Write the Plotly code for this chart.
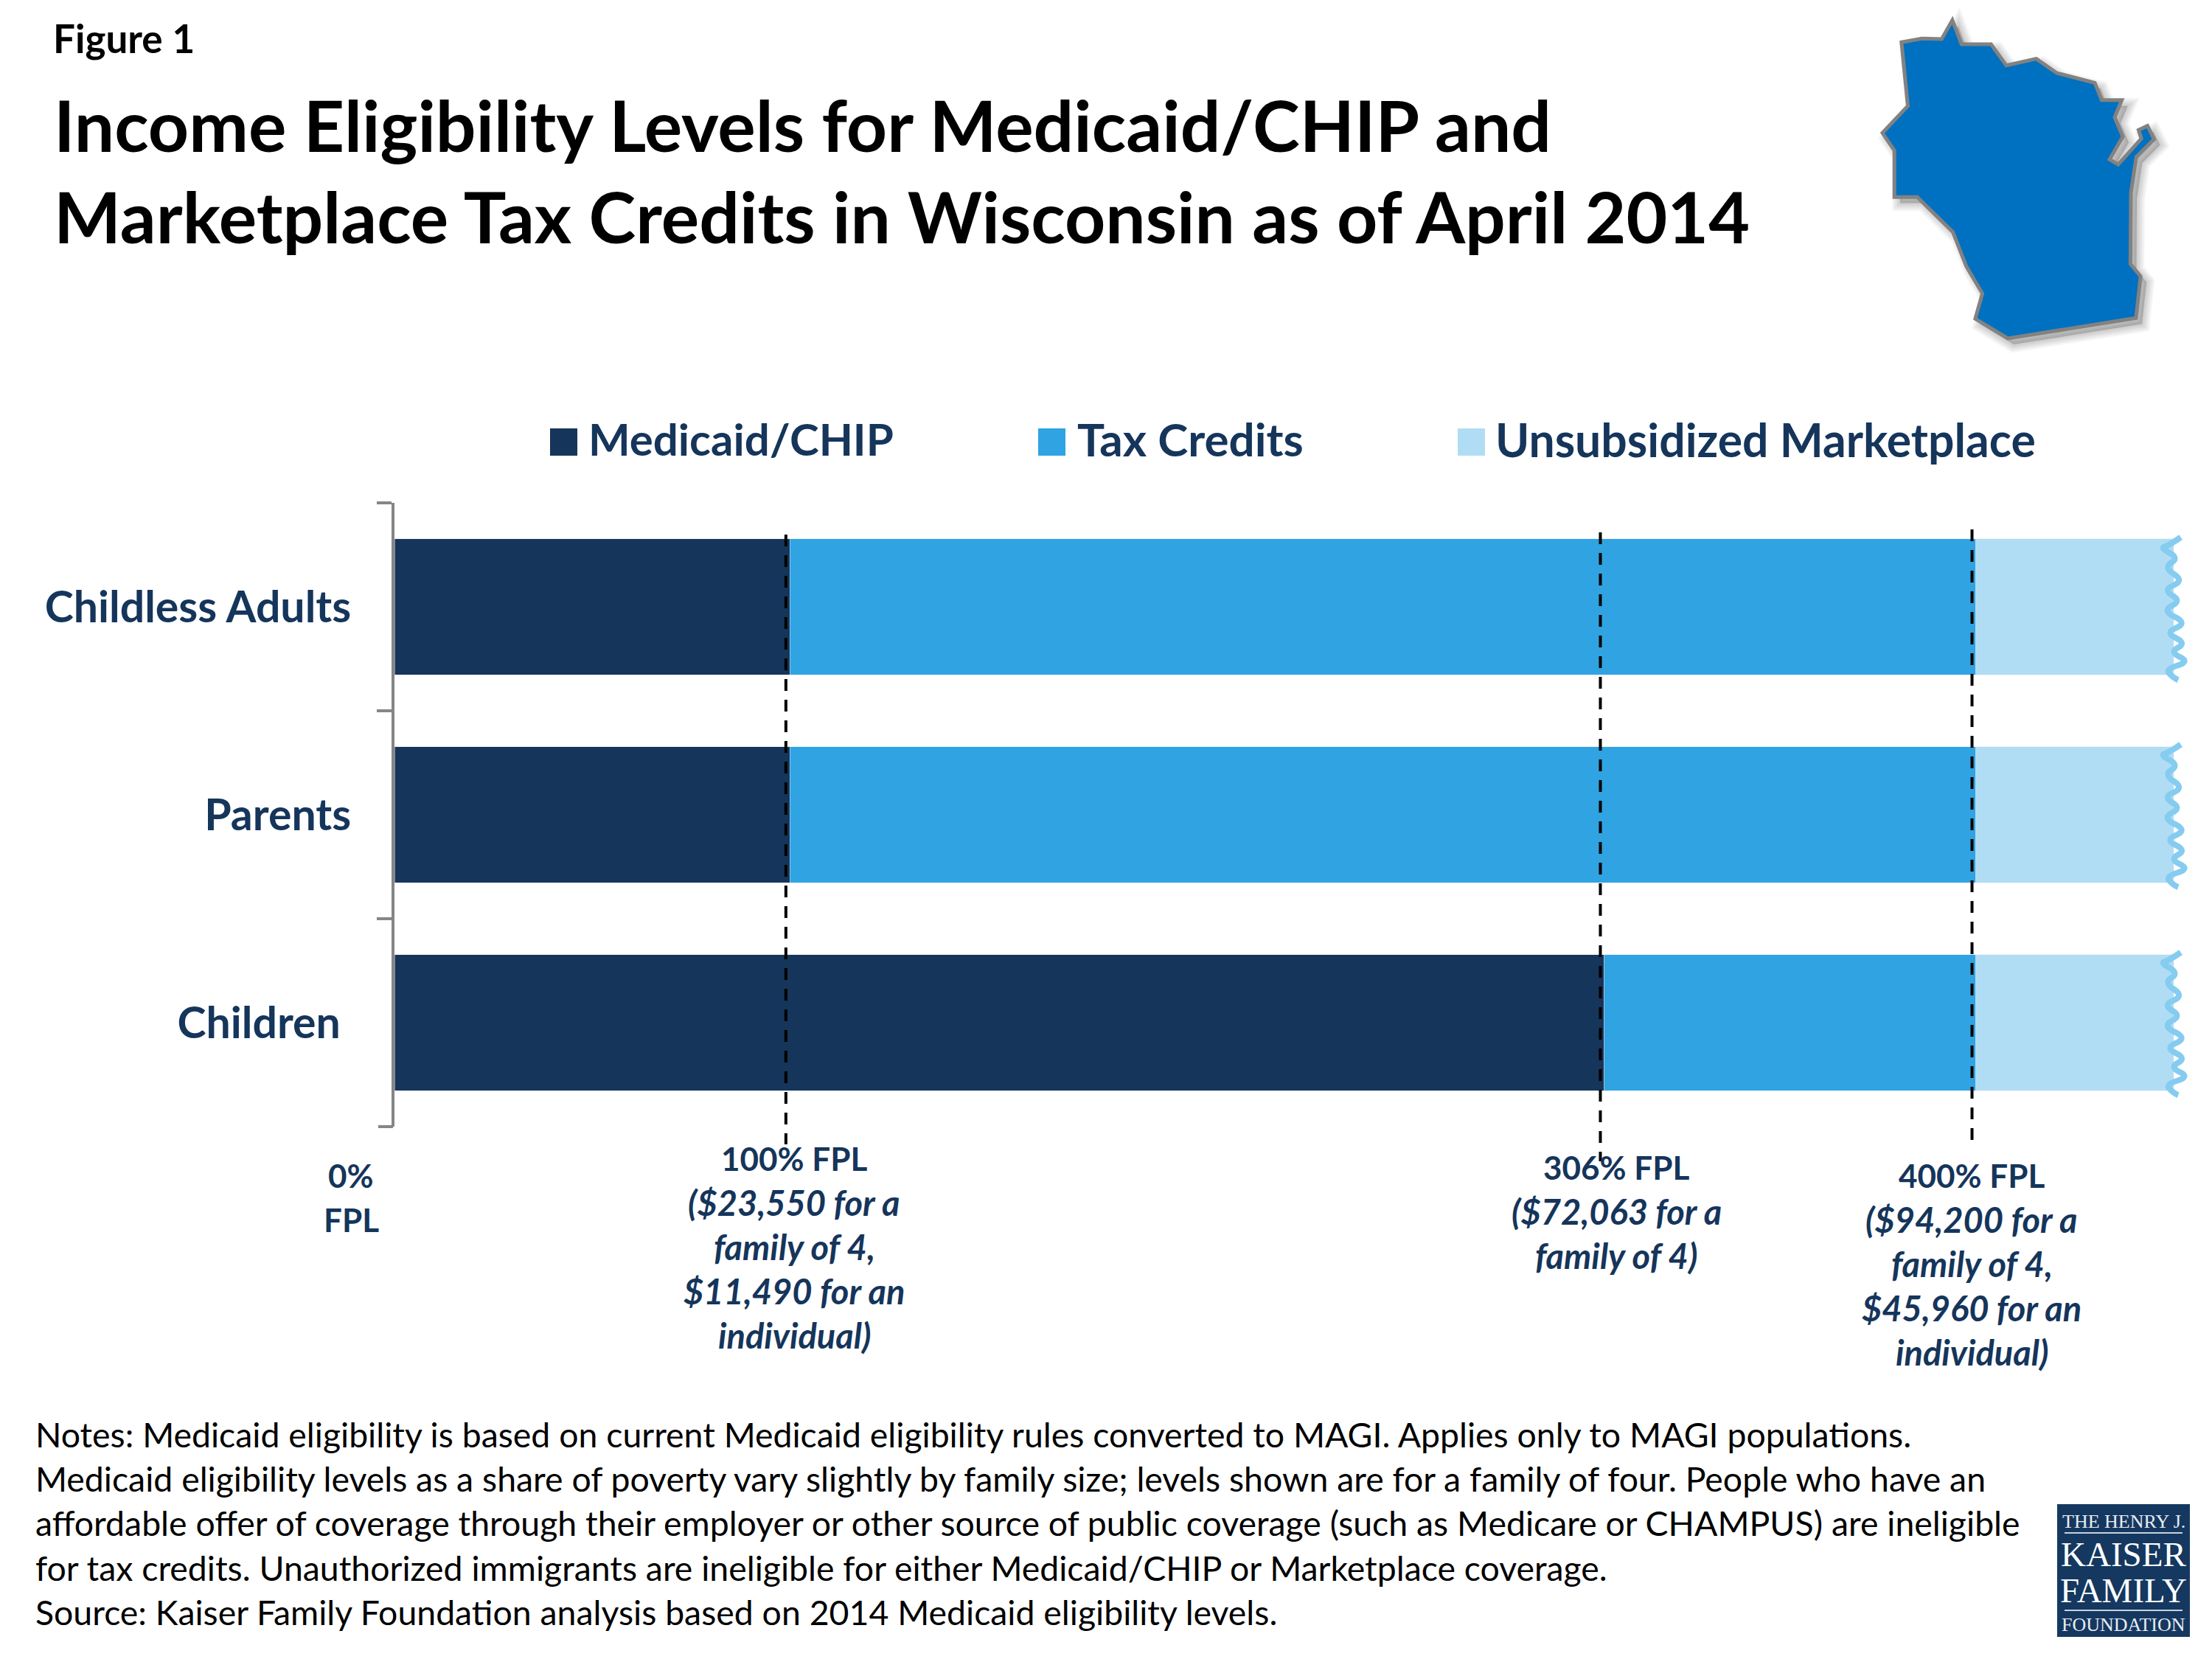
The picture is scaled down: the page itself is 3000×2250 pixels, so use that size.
import plotly.graph_objects as go

W, H = 3000, 2250
# the page body keeps its default 8px margin, so the figure is drawn inside it
FIG_W, FIG_H = W - 16, H - 16

# chart data
groups = ["Childless Adults", "Parents", "Children\u00a0"]
medicaid = [100, 100, 306]
tax_credits = [300, 300, 94]
unsubsidized = [50, 50, 50]
fpl_lines = [99, 305, 399]
fpl_line_ends = [(725, 1552), (722, 1575), (718, 1552)]

NAVY = "#15355B"
MID = "#30A3E2"
LIGHT = "#B1DDF4"
WAVE = "#85CCF0"
FONT = "Lato"

title_lines = [
    "Income Eligibility Levels for Medicaid/CHIP and",
    "Marketplace Tax Credits in Wisconsin as of April 2014",
]
note_lines = [
    "Notes: Medicaid eligibility is based on current Medicaid eligibility rules converted to MAGI. Applies only to MAGI populations.",
    "Medicaid eligibility levels as a share of poverty vary slightly by family size; levels shown are for a family of four. People who have an",
    "affordable offer of coverage through their employer or other source of public coverage (such as Medicare or CHAMPUS) are ineligible",
    "for tax credits. Unauthorized immigrants are ineligible for either Medicaid/CHIP or Marketplace coverage.",
    "Source: Kaiser Family Foundation analysis based on 2014 Medicaid eligibility levels.",
]
# (center x, first line y, bold heading lines, italic lines)
fpl_labels = [
    (476, 1594, ["0%", "FPL"], []),
    (1077, 1571, ["100% FPL"], ["($23,550 for a", "family of 4,", "$11,490 for an", "individual)"]),
    (2192, 1583, ["306% FPL"], ["($72,063 for a", "family of 4)"]),
    (2674, 1594, ["400% FPL"], ["($94,200 for a", "family of 4,", "$45,960 for an", "individual)"]),
]
# (label, colour, swatch x, text x, text size)
legend_items = [
    ("Medicaid/CHIP", NAVY, 746, 796, 60),
    ("Tax Credits", MID, 1408, 1459, 62),
    ("Unsubsidized Marketplace", LIGHT, 1977, 2026, 62.5),
]

# outline of the state icon and the torn bar edge (zoom crop pixels)
state_outline = [
    (360, 178), (440, 163), (518, 165), (560, 88), (596, 186), (712, 186), (772, 272), (890, 245),
    (970, 303), (1120, 343), (1147, 413), (1226, 413), (1198, 483), (1230, 562), (1178, 655),
    (1212, 675), (1303, 570), (1292, 535), (1327, 518), (1353, 572), (1283, 645), (1262, 790),
    (1260, 1080), (1300, 1130), (1282, 1300), (778, 1383), (650, 1303), (678, 1200), (615, 1090),
    (562, 950), (422, 808), (332, 808), (332, 618), (285, 547), (385, 437),
]
wave_edge = [
    (1065, 85), (1030, 105), (1005, 110), (1060, 135), (1015, 158), (1075, 190), (1012, 212),
    (1068, 238), (1010, 262), (1085, 292), (1018, 315), (1082, 340), (1032, 362), (1092, 385),
    (1020, 403), (1045, 425), (1070, 433),
]


def px(x):
    return (x - 8) / FIG_W


def py(y):
    return 1 - (y - 8) / FIG_H


def text(fig, s, x, y, size, color="black", anchor="left", font=FONT):
    fig.add_annotation(
        text=s, x=px(x), y=py(y), xref="paper", yref="paper", showarrow=False,
        xanchor=anchor, yanchor="middle", font=dict(family=font, size=size, color=color),
    )


fig = go.Figure()
fig.add_bar(name="Medicaid/CHIP", y=groups, x=medicaid, orientation="h", marker_color=NAVY)
fig.add_bar(name="Tax Credits", y=groups, x=tax_credits, orientation="h", marker_color=MID)
fig.add_bar(name="Unsubsidized Marketplace", y=groups, x=unsubsidized, orientation="h", marker_color=LIGHT)

fig.update_layout(
    width=FIG_W, height=FIG_H, margin=dict(l=0, r=0, t=0, b=0), barmode="stack", bargap=0.346,
    showlegend=False, paper_bgcolor="white", plot_bgcolor="rgba(0,0,0,0)",
    font=dict(family=FONT, color=NAVY),
)
fig.update_xaxes(domain=[px(535), px(2948)], range=[0, 450], visible=False)
fig.update_yaxes(
    domain=[py(1528), py(682)], autorange="reversed", showline=True, linecolor="#868686", linewidth=4,
    ticks="outside", tickson="boundaries", ticklen=20, tickwidth=4, tickcolor="#868686",
    ticklabelstandoff=43, tickfont=dict(family=FONT, size=59, color=NAVY, weight="bold"), showgrid=False,
)
# the axis leaves out its last boundary tick
fig.add_shape(
    type="line", xref="paper", yref="paper", x0=px(513), x1=px(533), y0=py(1528), y1=py(1528),
    line=dict(color="#868686", width=4),
)

for value, (top, bottom) in zip(fpl_lines, fpl_line_ends):
    fig.add_shape(
        type="line", xref="x", yref="paper", x0=value, x1=value, y0=py(top), y1=py(bottom),
        line=dict(color="black", width=4, dash="16px,12px"), layer="above",
    )

# torn edges at the end of each bar
for top in (732, 1013, 1295):
    pts = [(2600 + (1045 + (zx - 1045) * 1.4) / 3, top + (zy - 91) * 0.5627) for zx, zy in wave_edge]
    path = f"M{px(pts[0][0])},{py(pts[0][1])}"
    for a, b in zip(pts[1:-1], pts[2:]):
        mid = ((a[0] + b[0]) / 2, (a[1] + b[1]) / 2)
        path += f" Q{px(a[0])},{py(a[1])} {px(mid[0])},{py(mid[1])}"
    fig.add_shape(type="path", xref="paper", yref="paper", path=path, line=dict(color=WAVE, width=8))

# state icon, the shadow is faked with a stack of faint strokes
state = [(2553 + (zx - 285) * 0.345, zy / 3 - 2) for zx, zy in state_outline]
shadow = "M" + " L".join(f"{px(x + 8)},{py(y + 8)}" for x, y in state) + " Z"
for width in (22, 18, 14, 10, 6, 2):
    fig.add_shape(
        type="path", xref="paper", yref="paper", path=shadow, fillcolor="rgba(0,0,0,0.03)",
        line=dict(color="rgba(0,0,0,0.035)", width=width),
    )
path = "M" + " L".join(f"{px(x)},{py(y)}" for x, y in state) + " Z"
fig.add_shape(type="path", xref="paper", yref="paper", path=path, fillcolor="#0070C0", line=dict(color="#828282", width=5))

text(fig, "<b>Figure 1</b>", 70, 51, 53)
text(fig, f"<b>{title_lines[0]}</b>", 71, 169, 96.4)
text(fig, f"<b>{title_lines[1]}</b>", 71, 293, 96.4)

for label, color, sx, tx, size in legend_items:
    fig.add_shape(type="rect", xref="paper", yref="paper", x0=px(sx), x1=px(sx + 37), y0=py(581), y1=py(618), fillcolor=color, line_width=0)
    text(fig, f"<b>{label}</b>", tx, 595, size, NAVY)

for cx, y0, bold_lines, italic_lines in fpl_labels:
    for i, line in enumerate(bold_lines):
        text(fig, f"<b>{line}</b>", cx, y0 + i * 60, 44, NAVY, "center")
    for i, line in enumerate(italic_lines, start=len(bold_lines)):
        text(fig, f"<b><i>{line}</i></b>", cx, y0 + i * 60, 47, NAVY, "center")

for i, line in enumerate(note_lines):
    text(fig, line, 46, 1945 + i * 60.2, 46.4, "black")

# foundation logo
fig.add_shape(type="rect", xref="paper", yref="paper", x0=px(2790), x1=px(2970), y0=py(2040), y1=py(2220), fillcolor="#153860", line_width=0)
for ly in (2079, 2184):
    fig.add_shape(type="line", xref="paper", yref="paper", x0=px(2800), x1=px(2960), y0=py(ly), y1=py(ly), line=dict(color="#C8D2DE", width=2))
serif = "Liberation Serif"
text(fig, "THE HENRY J.", 2880, 2063, 26, "#E8ECF1", "center", serif)
text(fig, "KAISER", 2880, 2108, 47, "white", "center", serif)
text(fig, "FAMILY", 2880, 2157, 47, "white", "center", serif)
text(fig, "FOUNDATION", 2880, 2203, 26, "#E8ECF1", "center", serif)

fig.write_html("out.html")
